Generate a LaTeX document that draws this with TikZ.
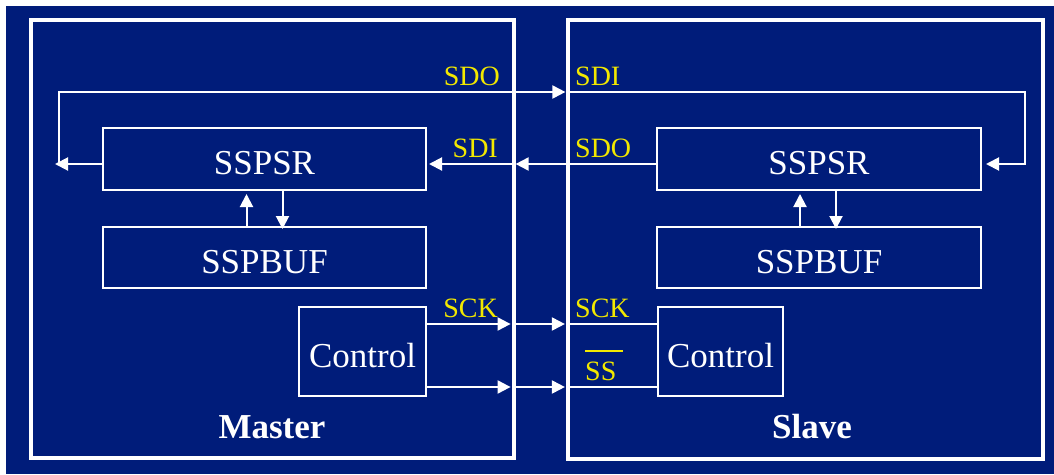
\documentclass[tikz,border=0pt]{standalone}
\usepackage{fontspec}
\setmainfont{Liberation Serif}
\usepackage{tikz}
\usetikzlibrary{positioning, arrows.meta}
\definecolor{navy}{HTML}{001C7A}
\definecolor{pinyellow}{HTML}{F2E800}
\tikzset{
  side/.style={draw=white, line width=3.2pt, inner sep=0pt},
  unit/.style={draw=white, line width=2pt, text=white, inner sep=0pt, text height=31pt, text depth=0pt, font=\fontsize{35}{40}\selectfont},
  title/.style={text=white, inner sep=0pt, font=\bfseries\fontsize{35}{40}\selectfont},
  pin/.style={text=pinyellow, inner sep=0pt, font=\fontsize{28}{32}\selectfont},
  wire/.style={line width=2pt, draw=white},
  sig/.style={-{Triangle[length=13pt, width=13pt]}, line width=2pt, draw=white},
}
\begin{document}
\begin{tikzpicture}[x=1pt, y=-1pt]
  \useasboundingbox (0,0) rectangle (1054,474);
  \fill[navy] (6,6) rectangle (1054,474);

  % Master and slave outlines
  \node[side, minimum width=483pt, minimum height=438pt] (mst) at (272.5,239) {};
  \node[side, minimum width=475pt, minimum height=439pt] (slv) at (805.5,239.5) {};

  % Shift register, buffer and control on each side
  \node[unit, minimum width=323pt, minimum height=62pt] (msr) at (264.5,159) {SSPSR};
  \node[unit, minimum width=323pt, minimum height=61pt, below=35pt of msr] (mbuf) {SSPBUF};
  \node[unit, minimum width=127pt, minimum height=89pt] (mctl) at (362.5,351.5) {Control};

  \node[unit, minimum width=324pt, minimum height=62pt] (ssr) at (819,159) {SSPSR};
  \node[unit, minimum width=324pt, minimum height=61pt, below=35pt of ssr] (sbuf) {SSPBUF};
  \node[unit, minimum width=125pt, minimum height=89pt] (sctl) at (720.5,351.5) {Control};

  \node[title, anchor=base] (mname) at (272,438) {Master};
  \node[title, anchor=base] (sname) at (812,438) {Slave};

  % Rows and corners of the signal lines
  \coordinate (topY) at (0,92);
  \coordinate (datY) at (0,164);
  \coordinate (ckY) at (0,324);
  \coordinate (ssY) at (0,387);
  \coordinate (loopL) at (59,164);
  \coordinate (loopR) at (1025,92);

  % Master SDO round the top into slave SDI
  \draw[sig, shorten >=-4pt] (msr.west |- datY) -- (loopL);
  \draw[sig, shorten >=1pt] (loopL) |- (slv.west |- topY);
  \draw[sig, shorten >=4pt] (slv.west |- topY) -- (loopR) |- (ssr.east |- datY);

  % Slave SDO back into master SDI
  \draw[sig] (ssr.west |- datY) -- (mst.east |- datY);
  \draw[sig, shorten >=2pt] (mst.east |- datY) -- (msr.east |- datY);

  % Buffer <-> shift register
  \draw[sig, shorten >=3pt] ([xshift=-18pt]mbuf.north) -- ([xshift=-18pt]msr.south);
  \draw[sig, shorten >=-3pt] ([xshift=18pt]msr.south) -- ([xshift=18pt]mbuf.north);
  \draw[sig, shorten >=3pt] ([xshift=-19pt]sbuf.north) -- ([xshift=-19pt]ssr.south);
  \draw[sig, shorten >=-3pt] ([xshift=17pt]ssr.south) -- ([xshift=17pt]sbuf.north);

  % Clock and slave select
  \draw[sig, shorten >=5pt] (mctl.east |- ckY) -- (mst.east |- ckY);
  \draw[sig, shorten >=1.5pt] (mst.east |- ckY) -- (slv.west |- ckY);
  \draw[wire] (slv.west |- ckY) -- (sctl.west |- ckY);
  \draw[sig, shorten >=5pt] (mctl.east |- ssY) -- (mst.east |- ssY);
  \draw[sig, shorten >=1.5pt] (mst.east |- ssY) -- (slv.west |- ssY);
  \draw[wire] (slv.west |- ssY) -- (sctl.west |- ssY);

  % Pin names
  \node[pin, anchor=base east] (sdoM) at (500,85) {SDO};
  \node[pin, anchor=base west] (sdiS) at (575,85) {SDI};
  \node[pin, anchor=base east] (sdiM) at (498,157) {SDI};
  \node[pin, anchor=base west] (sdoS) at (575,157) {SDO};
  \node[pin, anchor=base east] (sckM) at (498,317) {SCK};
  \node[pin, anchor=base west] (sckS) at (575,317) {SCK};
  \node[pin, anchor=base west] (ssS) at (585,380) {\rlap{\rule[28pt]{38pt}{2pt}}SS};
\end{tikzpicture}
\end{document}
